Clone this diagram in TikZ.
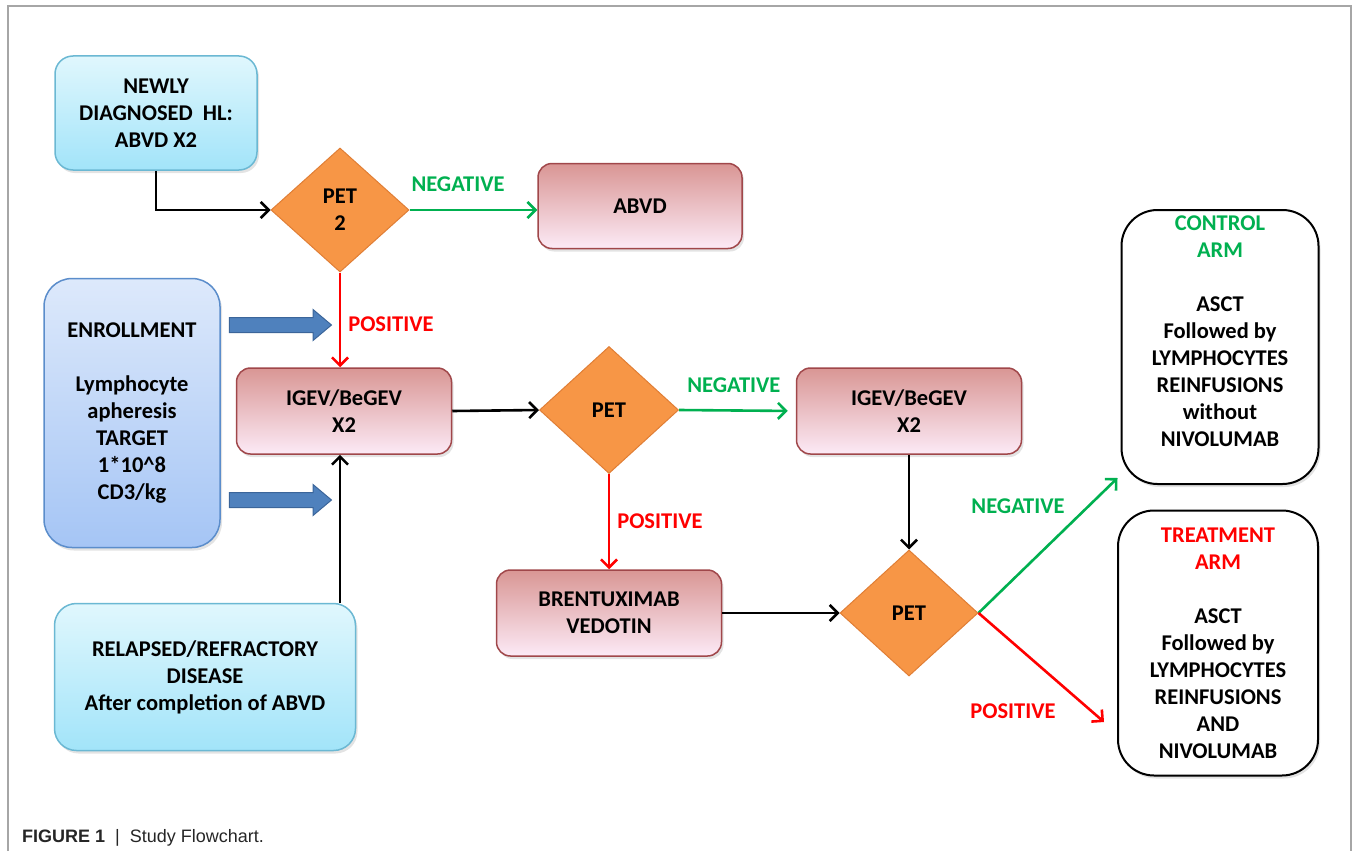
\documentclass[tikz,border=0pt]{standalone}
\usepackage{fontspec}
\setmainfont{Carlito}
\newfontfamily\capfont{Liberation Sans}
\usetikzlibrary{shapes,
	shapes.geometric,
	shapes.arrows,
	arrows,
	arrows.meta,
	shadows,
	positioning,
	calc}
\definecolor{cyanfr}{HTML}{6BB8D3}
\definecolor{cyantop}{HTML}{E0F7FD}
\definecolor{cyanbot}{HTML}{A2E4F9}
\definecolor{blfr}{HTML}{5B8DCB}
\definecolor{bltop}{HTML}{DDE9FB}
\definecolor{blbot}{HTML}{A5C5F5}
\definecolor{rdfr}{HTML}{A0474A}
\definecolor{rdtop}{HTML}{D99694}
\definecolor{rdbot}{HTML}{FCEAF6}
\definecolor{petfill}{HTML}{F79646}
\definecolor{petfr}{HTML}{E07E35}
\definecolor{fatfill}{HTML}{4F81BD}
\definecolor{fatfr}{HTML}{3B659A}
\definecolor{grn}{HTML}{00B050}
\definecolor{rd}{HTML}{FF0000}
\definecolor{frm}{HTML}{A6A6A6}
\tikzstyle{txt}=[font=\fontsize{22.5}{27}\selectfont\bfseries, align=center, inner sep=0]
\tikzstyle{shd}=[drop shadow={opacity=0.22, shadow xshift=2pt, shadow yshift=-3pt}]
\tikzstyle{start}=[txt, shd, draw=cyanfr, line width=1.5pt, rounded corners=18pt,
		top color=cyantop, bottom color=cyanbot]
\tikzstyle{enr}=[txt, shd, draw=blfr, line width=1.5pt, rounded corners=28pt,
		top color=bltop, bottom color=blbot]
\tikzstyle{treat}=[txt, shd, draw=rdfr, line width=1.5pt, rounded corners=14pt,
		top color=rdtop, bottom color=rdbot]
\tikzstyle{pet}=[txt, diamond, draw=petfr, fill=petfill, line width=1pt]
\tikzstyle{arm}=[shd, draw=black, fill=white, line width=2pt, rounded corners=36pt]
\tikzstyle{fat}=[single arrow, draw=fatfr, fill=fatfill, line width=1pt, inner xsep=0pt,
		inner ysep=7pt, minimum height=102pt, minimum width=30pt,
		single arrow head extend=8pt, single arrow tip angle=80]
\tikzstyle{ln}=[line width=2.6pt, -{Straight Barb[length=8pt,width=16pt]}]
\tikzstyle{lneg}=[txt, text=grn]
\tikzstyle{lpos}=[txt, text=rd]

\begin{document}
\begin{tikzpicture}[x=1pt, y=-1pt]
	\useasboundingbox (0,0) rectangle (1354,851);
	\draw[frm, line width=1.2pt] (8,851) -- (8,6) -- (1351,6) -- (1351,851);

	\node[start, minimum width=202pt, minimum height=114pt] (newly) at (156,113)
		{NEWLY\\DIAGNOSED\ \ HL:\\ABVD X2};
	\node[enr, minimum width=176pt, minimum height=269pt] (enroll) at (132,413)
		{ENROLLMENT\\[27pt]Lymphocyte\\apheresis\\TARGET\\1*10\textasciicircum 8\\CD3/kg};
	\node[start, rounded corners=22pt, minimum width=301pt, minimum height=147pt] (relapsed) at (205,677)
		{RELAPSED/REFRACTORY\\DISEASE\\After completion\ of ABVD};

	\node[pet, minimum width=138pt, minimum height=124pt] (pet2) at (340,210) {PET\\2};
	\node[treat, minimum width=204pt, minimum height=85pt] (abvd) at (640,206) {ABVD};
	\node[treat, minimum width=215pt, minimum height=86pt] (igev1) at (344,411) {IGEV/BeGEV\\X2};
	\node[pet, minimum width=139pt, minimum height=127pt] (petb) at (609,410) {PET};
	\node[treat, minimum width=225pt, minimum height=86pt] (igev2) at (909,411) {IGEV/BeGEV\\X2};
	\node[treat, minimum width=225pt, minimum height=86pt] (brent) at (609,613) {BRENTUXIMAB\\VEDOTIN};
	\node[pet, minimum width=138pt, minimum height=126pt] (pet3) at (909,613) {PET};

	\node[arm, minimum width=197pt, minimum height=274pt] (ctrl) at (1220,347) {};
	\node[txt] (ctrltxt) at (1220,331)
		{\textcolor{grn}{CONTROL}\\\textcolor{grn}{ARM}\\[27pt]ASCT\\Followed by\\LYMPHOCYTES\\REINFUSIONS\\without\\NIVOLUMAB};
	\node[arm, minimum width=200pt, minimum height=265pt] (trt) at (1218,643) {};
	\node[txt] (trttxt) at (1218,643)
		{\textcolor{rd}{TREATMENT}\\\textcolor{rd}{ARM}\\[27pt]ASCT\\Followed by\\LYMPHOCYTES\\REINFUSIONS\\AND\\NIVOLUMAB};

	\node[fat] (fatup) at (276,325) {};
	\node[fat] (fatdn) at (276,500) {};

	\coordinate (ctrlin) at ($(ctrl.south west)+(-3,-7)$);
	\coordinate (trtin) at ($(trt.west)+(-13,79)$);

	\draw[ln] (newly.south) |- (pet2.west);
	\draw[ln, grn] (pet2.east) -- node[lneg, pos=0.38, above=17pt] (neg1) {NEGATIVE} (pet2.east -| abvd.west);
	\draw[ln, rd] (pet2.south) -- node[lpos, pos=0.55, right=7pt] (pos1) {POSITIVE} (pet2.south |- igev1.north);
	\draw[ln] (relapsed.north -| pet2.south) -- (pet2.south |- igev1.south);
	\draw[ln] (igev1.east) -- (petb.west);
	\draw[ln, grn, shorten >=8pt] (petb.east) -- node[lneg, pos=0.47, above=17pt] (neg2) {NEGATIVE} (igev2.west);
	\draw[ln, rd] (petb.south) -- node[lpos, pos=0.5, right=7pt] (pos2) {POSITIVE} (brent.north);
	\draw[ln] (brent.east) -- (pet3.west);
	\draw[ln] (igev2.south) -- (pet3.north);
	\draw[ln, grn] (pet3.east) -- (ctrlin);
	\draw[ln, rd] (pet3.east) -- (trtin);
	\node[lneg] (neg3) at (1018,506) {NEGATIVE};
	\node[lpos] (pos3) at (1013,711) {POSITIVE};

	\node[anchor=base west, inner sep=0, text=black!85, font=\capfont\fontsize{18}{21}\selectfont] (cap)
		at (22,842) {\textbf{FIGURE 1}\hspace{10pt}|\hspace{10pt}Study Flowchart.};
\end{tikzpicture}
\end{document}
